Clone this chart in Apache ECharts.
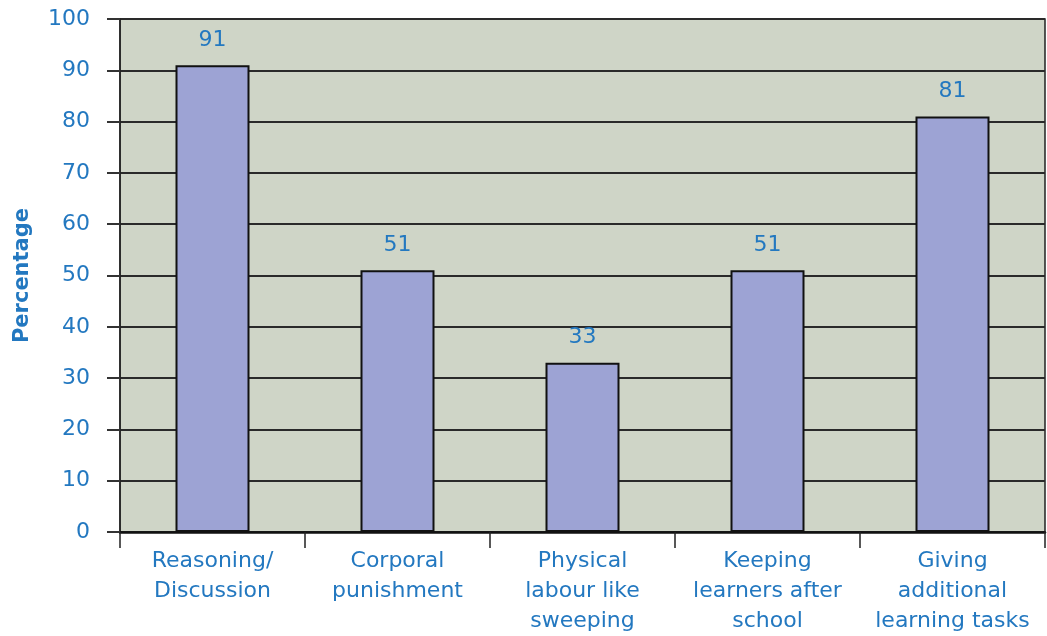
<!DOCTYPE html>
<html><head><meta charset="utf-8">
<script src="https://cdn.jsdelivr.net/npm/echarts@6/dist/echarts.min.js"></script>
<style>html,body{margin:0;padding:0;background:#fff}#c{width:1047px;height:636px}</style>
</head><body><div id="c"></div>
<script>
const categories = ["Reasoning/\nDiscussion", "Corporal\npunishment", "Physical\nlabour like\nsweeping", "Keeping\nlearners after\nschool", "Giving\nadditional\nlearning tasks"];
const values = [91, 51, 33, 51, 81];
const yTicks = {min: 0, max: 100, interval: 10};
const yTitle = "Percentage";
const blue = "#2378c0";
const chart = echarts.init(document.getElementById('c'));
chart.setOption({
  animation: false,
  grid: {left: 120, right: 2, top: 19, bottom: 100, show: true, backgroundColor: "#cfd5c7", borderColor: "#222", borderWidth: 1.5},
  xAxis: {
    type: 'category', data: categories,
    axisLine: {lineStyle: {color: "#111", width: 2.5}},
    axisTick: {show: true, alignWithLabel: false, length: 16, lineStyle: {color: "#222", width: 1.5}},
    axisLabel: {color: blue, fontFamily: "DejaVu Sans", fontSize: 22, lineHeight: 30, margin: 14, interval: 0}
  },
  yAxis: {
    type: 'value', min: yTicks.min, max: yTicks.max, interval: yTicks.interval,
    name: yTitle, nameLocation: 'middle', nameGap: 87,
    nameTextStyle: {color: blue, fontFamily: "DejaVu Sans", fontSize: 21, fontWeight: 'bold'},
    axisLine: {show: true, lineStyle: {color: "#222", width: 1.5}},
    axisTick: {show: true, length: 13, lineStyle: {color: "#333", width: 2}},
    axisLabel: {color: blue, fontFamily: "DejaVu Sans", fontSize: 22, margin: 30},
    splitLine: {lineStyle: {color: "#2a2a2a", width: 1.8}}
  },
  series: [{
    type: 'bar', data: values, barWidth: '40%',
    itemStyle: {color: "#9da3d4", borderColor: "#111", borderWidth: 2},
    label: {show: true, position: 'top', distance: 14, color: blue, fontFamily: "DejaVu Sans", fontSize: 22}
  }]
});
</script></body></html>
